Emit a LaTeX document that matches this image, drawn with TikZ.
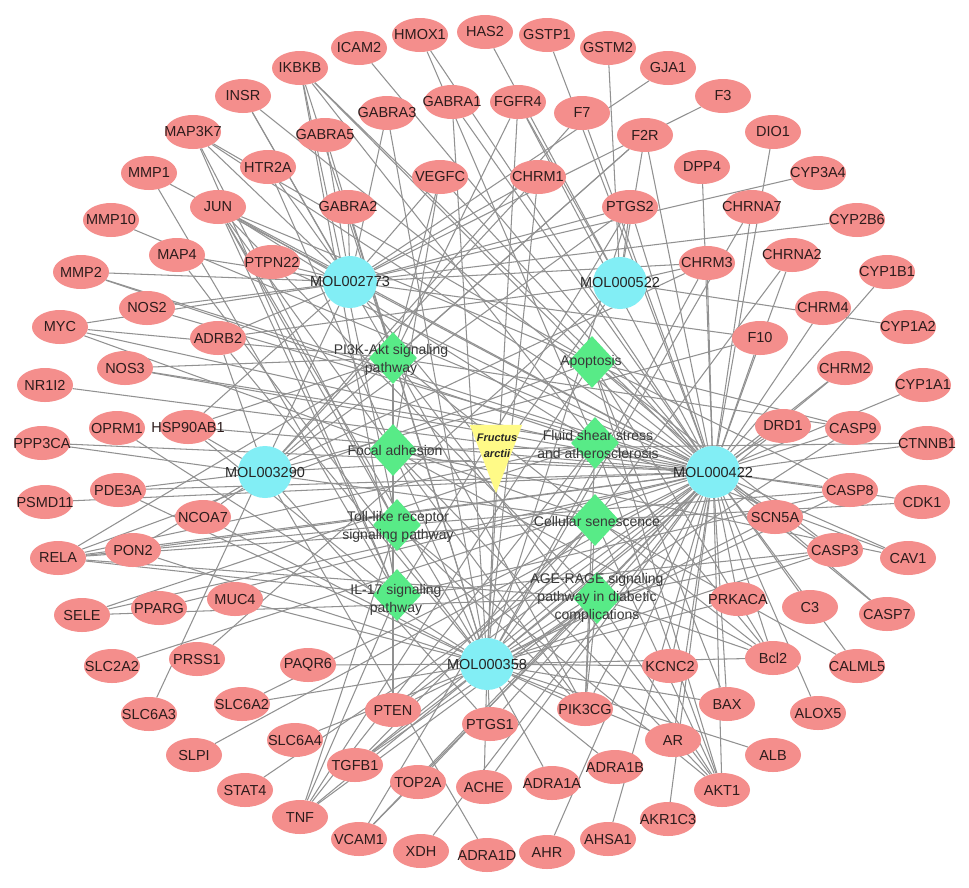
\documentclass[tikz,border=0pt]{standalone}
\usepackage{fontspec}
\setmainfont{Liberation Sans}
\usetikzlibrary{shapes.geometric}
\pgfdeclarelayer{bg}
\pgfsetlayers{bg,main}
\definecolor{gpink}{RGB}{244,142,140}
\definecolor{gcyan}{RGB}{130,238,245}
\definecolor{ggreen}{RGB}{88,235,135}
\definecolor{gyellow}{RGB}{255,250,135}
\definecolor{gedge}{RGB}{145,145,145}
\definecolor{gtext}{RGB}{45,28,28}
\newcommand\gn[3]{\node[gene] (#1) at (#2,#3) {\makebox[0pt]{#1}};}
\begin{document}
\begin{tikzpicture}[x=1pt,y=-1pt,
  gene/.style={ellipse, fill=gpink, minimum width=56pt, minimum height=34pt, inner sep=0pt, text=gtext, font=\fontsize{14.5}{16}\selectfont},
  mol/.style={ellipse, fill=gcyan, minimum width=54pt, minimum height=52pt, inner sep=0pt, text=black!85, font=\fontsize{14.5}{16}\selectfont},
  pwy/.style={diamond, fill=ggreen, minimum width=48pt, minimum height=52pt, inner sep=0pt},
  pwylab/.style={align=center, text=black!78, font=\fontsize{14}{18}\selectfont, inner sep=0pt},
  lnk/.style={draw=gedge, line width=1.05pt}]
\useasboundingbox (0,0) rectangle (969,887);
\begin{pgfonlayer}{bg}
\fill[white] (0,0) rectangle (969,887);
\end{pgfonlayer}
% outer ring
\gn{HAS2}{485}{32}
\gn{HMOX1}{420}{35}
\gn{ICAM2}{359}{48}
\gn{IKBKB}{300}{68}
\gn{INSR}{243}{96}
\gn{MAP3K7}{193}{132}
\gn{MMP1}{149}{173}
\gn{MMP10}{111}{220}
\gn{MMP2}{81}{272}
\gn{MYC}{60}{327}
\gn{NR1I2}{45}{385}
\gn{PPP3CA}{42}{443}
\gn{PSMD11}{45}{502}
\gn{RELA}{58}{558}
\gn{SELE}{82}{615}
\gn{SLC2A2}{112}{666}
\gn{SLC6A3}{149}{714}
\gn{SLPI}{194}{755}
\gn{STAT4}{245}{790}
\gn{TNF}{300}{817}
\gn{VCAM1}{359}{839}
\gn{XDH}{421}{851}
\gn{ADRA1D}{487}{855}
\gn{AHR}{547}{852}
\gn{AHSA1}{608}{839}
\gn{AKR1C3}{668}{819}
\gn{AKT1}{722}{790}
\gn{ALB}{773}{755}
\gn{ALOX5}{818}{713}
\gn{CALML5}{857}{666}
\gn{CASP7}{887}{614}
\gn{CAV1}{908}{558}
\gn{CDK1}{922}{502}
\gn{CTNNB1}{927}{443}
\gn{CYP1A1}{923}{385}
\gn{CYP1A2}{908}{327}
\gn{CYP1B1}{887}{272}
\gn{CYP2B6}{857}{220}
\gn{CYP3A4}{818}{173}
\gn{DIO1}{773}{132}
\gn{F3}{723}{96}
\gn{GJA1}{668}{68}
\gn{GSTM2}{608}{48}
\gn{GSTP1}{547}{35}
% middle ring
\gn{GABRA1}{452}{102}
\gn{FGFR4}{518}{102}
\gn{F7}{582}{113}
\gn{F2R}{645}{135}
\gn{DPP4}{702}{167}
\gn{CHRNA7}{752}{207}
\gn{CHRNA2}{792}{255}
\gn{CHRM4}{823}{308}
\gn{CHRM2}{845}{368}
\gn{CASP9}{853}{428}
\gn{CASP8}{850}{490}
\gn{CASP3}{835}{550}
\gn{C3}{810}{607}
\gn{Bcl2}{773}{658}
\gn{BAX}{727}{704}
\gn{AR}{673}{740}
\gn{ADRA1B}{615}{767}
\gn{ADRA1A}{552}{783}
\gn{ACHE}{484}{787}
\gn{TOP2A}{418}{782}
\gn{TGFB1}{355}{765}
\gn{SLC6A4}{295}{740}
\gn{SLC6A2}{242}{704}
\gn{PRSS1}{197}{659}
\gn{PPARG}{159}{608}
\gn{PON2}{133}{550}
\gn{PDE3A}{118}{490}
\gn{OPRM1}{117}{428}
\gn{NOS3}{125}{368}
\gn{NOS2}{147}{308}
\gn{MAP4}{177}{255}
\gn{JUN}{218}{207}
\gn{HTR2A}{268}{167}
\gn{GABRA5}{325}{135}
\gn{GABRA3}{387}{113}
% inner ring
\gn{GABRA2}{348}{207}
\gn{VEGFC}{440}{177}
\gn{CHRM1}{538}{177}
\gn{PTGS2}{630}{207}
\gn{CHRM3}{707}{263}
\gn{F10}{760}{338}
\gn{DRD1}{783}{426}
\gn{SCN5A}{775}{517}
\gn{PRKACA}{738}{599}
\gn{KCNC2}{670}{666}
\gn{PIK3CG}{585}{709}
\gn{PTGS1}{490}{724}
\gn{PTEN}{393}{710}
\gn{PAQR6}{308}{665}
\gn{MUC4}{235}{599}
\gn{NCOA7}{203}{517}
\gn{HSP90AB1}{188}{427}
\gn{ADRB2}{218}{338}
\gn{PTPN22}{272}{262}
% compounds
\node[mol] (M2773) at (350,282) {\makebox[0pt]{MOL002773}};
\node[mol] (M522) at (620,283) {\makebox[0pt]{MOL000522}};
\node[mol] (M3290) at (265,472) {\makebox[0pt]{MOL003290}};
\node[mol] (M422) at (713,472) {\makebox[0pt]{MOL000422}};
\node[mol] (M358) at (487,664) {\makebox[0pt]{MOL000358}};
% pathways
\node[pwy] (PI3K) at (393,358) {};
\node[pwy] (APO) at (592,362) {};
\node[pwy] (FOC) at (393,450) {};
\node[pwy] (FLU) at (595,443) {};
\node[pwy] (TLR) at (397,525) {};
\node[pwy] (SEN) at (595,520) {};
\node[pwy] (IL17) at (397,595) {};
\node[pwy] (AGE) at (597,598) {};
% herb
\node[inner sep=0pt, minimum width=52pt, minimum height=68pt] (FA) at (496,459) {};
\fill[gyellow] (FA.north west) -- (FA.north east) -- (FA.south) -- cycle;
\node[font=\bfseries\itshape\fontsize{11}{16}\selectfont, align=center, text=black!85] (FAt) at (497,446) {Fructus\\arctii};
% pathway labels
\node[pwylab] (PI3Kt) at (391,360) {PI3K-Akt signaling\\pathway};
\node[pwylab] (APOt) at (591,362) {Apoptosis};
\node[pwylab] (FOCt) at (395,450) {Focal adhesion};
\node[pwylab] (FLUt) at (598,444) {Fluid shear stress\\and atherosclerosis};
\node[pwylab] (TLRt) at (398,527) {Toll-like receptor\\signaling pathway};
\node[pwylab] (SENt) at (597,521) {Cellular senescence};
\node[pwylab] (IL17t) at (396,600) {IL-17 signaling\\pathway};
\node[pwylab] (AGEt) at (597,598) {AGE-RAGE signaling\\pathway in diabetic\\complications};
% edges
\begin{pgfonlayer}{bg}
\foreach \m in {M2773,M522,M3290,M422,M358} \draw[lnk] (FA) -- (\m);
\foreach \t in {JUN,MAP3K7,HTR2A,GABRA2,GABRA3,GABRA5,PTPN22,MMP2,NOS2,MYC,ADRB2,SLC6A3,F3,GJA1,CYP2B6,CYP3A4,VEGFC,PTGS2,F10,CHRM1,MAP4,INSR,HSP90AB1,CHRM3} \draw[lnk] (M2773) -- (\t);
\foreach \t in {HAS2,GSTM2,PTGS2,CYP1A2,PRSS1,CHRM3,F2R,FGFR4,ADRB2} \draw[lnk] (M522) -- (\t);
\foreach \t in {ADRA1D,PDE3A,HSP90AB1,ADRB2,NCOA7,CHRM1,F7,F2R,PTGS2,CHRM3,F10,PTGS1,PON2} \draw[lnk] (M3290) -- (\t);
\foreach \t in {ICAM2,IKBKB,INSR,MAP3K7,MMP1,MMP10,MYC,NR1I2,PPP3CA,PSMD11,RELA,SELE,SLC2A2,SLPI,STAT4,VCAM1,XDH,AHR,AHSA1,AKR1C3,AKT1,ALOX5,CALML5,CASP7,CAV1,CDK1,CTNNB1,CYP1A1,CYP1B1,DIO1,GSTP1,HMOX1,FGFR4,F7,F2R,DPP4,CHRNA7,CHRNA2,CHRM4,CHRM2,CASP9,CASP8,CASP3,C3,Bcl2,BAX,AR,ACHE,TOP2A,TGFB1,SLC6A2,PPARG,PON2,PDE3A,NOS3,NOS2,JUN,PTPN22,GABRA1,VEGFC,PTGS2,CHRM3,F10,DRD1,SCN5A,PRKACA,KCNC2,PIK3CG,PTGS1,PTEN,HSP90AB1,MMP2} \draw[lnk] (M422) -- (\t);
\foreach \t in {TNF,ADRA1B,ADRA1A,ACHE,TGFB1,SLC6A4,PON2,PDE3A,OPRM1,MAP4,HTR2A,GABRA5,GABRA3,GABRA1,FGFR4,CHRNA7,CHRNA2,CHRM2,CASP9,CASP8,CASP3,Bcl2,BAX,AR,GABRA2,CHRM1,PTGS2,CHRM3,DRD1,SCN5A,PRKACA,KCNC2,PIK3CG,PTGS1,PTEN,PAQR6,MUC4,NCOA7,ADRB2,JUN,ALB,SLC6A2} \draw[lnk] (M358) -- (\t);
\foreach \t in {AKT1,Bcl2,CASP9,MYC,F2R,VEGFC,PTEN,PIK3CG,HSP90AB1,FGFR4,INSR,NOS3,IKBKB,RELA} \draw[lnk] (PI3K) -- (\t);
\foreach \t in {AKT1,Bcl2,BAX,CASP3,CASP7,CASP8,CASP9,JUN,IKBKB,RELA,TNF,MAP3K7} \draw[lnk] (APO) -- (\t);
\foreach \t in {AKT1,Bcl2,CAV1,CTNNB1,JUN,PTEN,VEGFC,PIK3CG} \draw[lnk] (FOC) -- (\t);
\foreach \t in {AKT1,Bcl2,CAV1,JUN,MMP2,NOS3,HMOX1,VCAM1,SELE,TNF,IKBKB,RELA,PIK3CG} \draw[lnk] (FLU) -- (\t);
\foreach \t in {AKT1,CASP8,JUN,MAP3K7,IKBKB,RELA,TNF,PIK3CG} \draw[lnk] (TLR) -- (\t);
\foreach \t in {AKT1,MYC,TGFB1,CDK1,RELA,CALML5,PPP3CA,PTEN,PIK3CG} \draw[lnk] (SEN) -- (\t);
\foreach \t in {CASP3,CASP8,JUN,MAP3K7,IKBKB,RELA,TNF,PTGS2,MMP1,HSP90AB1} \draw[lnk] (IL17) -- (\t);
\foreach \t in {AKT1,Bcl2,CASP3,JUN,RELA,TGFB1,TNF,VCAM1,SELE,PIK3CG} \draw[lnk] (AGE) -- (\t);
\end{pgfonlayer}
\end{tikzpicture}
\end{document}
